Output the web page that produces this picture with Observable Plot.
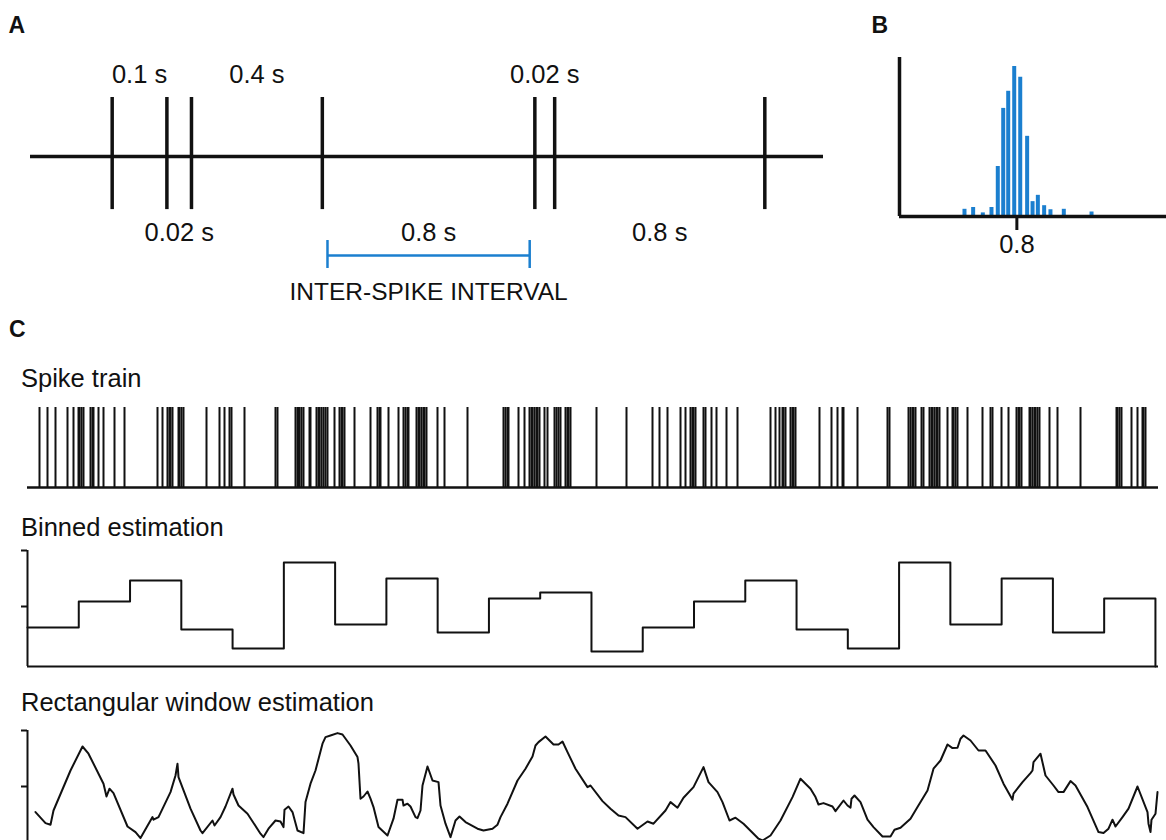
<!DOCTYPE html>
<html><head><meta charset="utf-8">
<script src="https://cdn.jsdelivr.net/npm/d3@7"></script>
<script src="https://cdn.jsdelivr.net/npm/@observablehq/plot@0.6"></script>
<style>
html,body{margin:0;padding:0;background:#fff;overflow:hidden;}
#fig{position:relative;width:1166px;height:840px;font-family:"Liberation Sans",Arial,Helvetica,sans-serif;color:#111;}
.panel{position:absolute;}
.lbl{position:absolute;line-height:1;white-space:nowrap;color:#111;}
.thick-ticks g[aria-label="x-axis tick"], .thick-ticks g[aria-label="x-axis tick"] path{stroke-width:3px;}
.thin-ticks g[aria-label="y-axis tick"], .thin-ticks g[aria-label="y-axis tick"] path{stroke-width:2px;}
</style></head>
<body><div id="fig"></div>
<script>
const FONT = '"Liberation Sans", Arial, Helvetica, sans-serif';
const INK = "#111";
const BLUE = "#1b7fcf";

// ---------- Panel A (schematic, not to scale) ----------
const schematicSpikes = [1.03, 1.72, 2.03, 3.68, 6.36, 6.61, 9.26];
const intervalLabels = ["0.1 s", "0.02 s", "0.4 s", "0.8 s", "0.02 s", "0.8 s"];
const intervalSides = ["above", "below", "above", "below", "above", "below"];
const isiExampleIndex = 3;
const isiCaption = "INTER-SPIKE INTERVAL";

// ---------- Panel B (ISI histogram) ----------
const isiBinCenters = [0.443, 0.502, 0.568, 0.627, 0.670, 0.707, 0.741, 0.782, 0.823, 0.870, 0.907, 0.943, 0.986, 1.029, 1.120, 1.309];
const isiBinCounts  = [1.6, 2.0, 0.8, 2.0, 11.1, 24.0, 27.8, 33.3, 30.9, 17.8, 3.3, 4.7, 2.4, 1.5, 1.6, 1.0];
const isiTicks = [0.8];

// ---------- Panel C ----------
const panelTitles = ["Spike train", "Binned estimation", "Rectangular window estimation"];
const spikeTimes = [
 0.12,0.20,0.28,0.40,0.46,0.51,0.52,0.54,0.56,0.63,0.65,0.66,0.71,0.76,0.87,0.97,1.30,1.35,1.40,1.42,1.43,1.45,1.51,1.52,1.54,1.56,1.79,1.92,1.97,2.02,2.04,2.17,2.48,2.50,2.68,2.70,2.71,2.72,2.74,2.76,2.82,2.83,2.89,2.91,2.92,2.94,2.96,2.98,3.00,3.07,3.12,3.14,3.15,3.17,3.27,3.43,3.50,3.52,3.53,3.61,3.71,
 3.76,3.78,3.80,3.81,3.89,3.91,3.92,3.94,3.96,3.97,3.99,4.10,4.17,4.40,4.76,4.78,4.80,4.81,4.91,4.97,5.02,5.04,5.05,5.07,5.09,5.10,5.12,5.17,5.20,5.27,5.29,5.31,5.33,5.38,5.40,5.41,5.43,5.69,5.99,6.25,6.32,6.40,6.53,6.58,6.63,6.65,6.66,6.68,6.76,6.78,6.84,6.89,6.99,7.10,7.43,7.48,7.52,
 7.55,7.56,7.58,7.63,7.65,7.66,7.68,7.92,8.04,8.10,8.15,8.16,8.30,8.60,8.62,8.81,8.83,8.85,8.86,8.88,8.94,8.96,9.02,9.04,9.05,9.07,9.09,9.10,9.12,9.20,9.25,9.26,9.28,9.30,9.40,9.55,9.63,9.65,9.74,9.81,9.89,9.91,9.92,9.94,10.02,10.03,10.05,10.07,10.08,10.10,10.12,10.22,10.30,10.53,10.89,10.90,10.92,10.94,11.04,11.10,11.15,11.16,11.18
];
const binnedRates = [19.5, 32.5, 43, 18.5, 9, 52, 21, 44, 17, 34, 37, 7.5, 19.5, 32.5, 43, 18.5, 9, 52, 21, 44, 17, 34];
const binWidth = 0.5127;
const rateTicks = [30, 58];
const rectTimes = [0.08,0.18,0.23,0.26,0.43,0.55,0.61,0.76,0.79,0.82,0.86,1.00,1.08,1.13,1.25,1.26,1.31,1.43,1.48,1.50,1.51,1.63,1.73,1.75,1.85,1.87,1.93,1.98,2.05,2.06,2.11,2.20,2.33,2.36,2.41,2.48,2.53,2.56,2.57,2.61,2.65,2.70,2.76,2.78,2.83,2.88,2.95,2.98,3.03,3.10,3.15,3.23,3.30,3.31,3.33,3.36,3.40,3.43,3.46,3.51,3.60,3.66,3.70,3.75,3.76,3.80,3.83,3.88,3.90,3.93,3.95,4.00,4.05,4.11,4.13,4.18,4.23,4.28,4.32,4.38,4.50,4.56,4.65,4.70,4.73,4.80,4.90,4.98,5.05,5.08,5.11,5.18,5.26,5.31,5.35,5.40,5.48,5.60,5.63,5.75,5.83,5.91,5.98,6.10,6.20,6.26,6.38,6.43,6.50,6.56,6.66,6.71,6.76,6.81,6.90,6.95,7.02,7.08,7.16,7.31,7.35,7.43,7.53,7.65,7.73,7.83,7.88,7.91,7.96,8.05,8.08,8.16,8.20,8.23,8.24,8.27,8.33,8.40,8.46,8.55,8.63,8.67,8.73,8.83,8.90,9.00,9.06,9.13,9.20,9.25,9.30,9.33,9.36,9.43,9.51,9.58,9.68,9.76,9.85,9.86,9.95,10.03,10.05,10.06,10.13,10.18,10.26,10.31,10.36,10.43,10.48,10.60,10.71,10.76,10.81,10.85,10.88,10.95,11.01,11.10,11.20,11.21,11.23,11.24,11.28,11.30];
const rectRates = [17.2,11.7,10.9,18,38,50,46.4,31.4,25,28.9,26.7,10,7.2,4.2,14.7,13.4,14.7,27.2,35.5,41.4,34.7,18.9,8,6.7,13,10.5,14.7,20,28.9,26,20.5,16.4,6.4,4.7,8.9,13,12.5,9.7,18.4,20,17.2,8,6.7,22.2,31.4,38,51.4,54.7,55.5,56.7,56,50.5,44.7,41.4,23.9,25,27.5,23.9,19.7,9.7,5.5,13.9,23.4,23.4,20.5,21.4,20,14.7,14.2,18,30.5,40,33,32.2,20.5,11.4,4.7,13,15,12.2,8.9,8,8.9,10.9,14.7,21.4,33,38.9,45,50.5,52.2,55,51,51,52.5,47.2,38.9,29.7,30.5,22.7,18.9,15.5,14.7,8.9,12.5,11.4,18,22.2,19.4,24.4,29.7,34.7,39.7,32.2,27.2,22.2,13,14.4,11.4,3.9,3,5.5,13,24.7,33.9,28.9,24.7,21,21.7,20,17.7,23,20.5,19.4,23.9,25.5,22.2,13.4,9.7,5,5,8.4,9.4,13.9,19.7,28,38.9,43,51,49.2,49.4,53.9,55.5,53,48,48,40.5,31.4,23.4,26.4,32.2,36.7,38,42.2,46.4,35.5,30.5,27.2,27.2,32.7,30.5,19.7,7.2,6.7,8.9,13.4,10,14.7,18.9,30,17.2,11.4,7.2,13.4,16.4,27.2];

// ---------- helpers ----------
const fig = document.getElementById("fig");
function place(node, left, top, cls) {
  const d = document.createElement("div");
  d.className = "panel " + (cls || "");
  d.style.left = left + "px"; d.style.top = top + "px";
  d.appendChild(node); fig.appendChild(d);
}
function label(text, left, baseline, size, bold) {
  const d = document.createElement("div");
  d.className = "lbl";
  d.textContent = text;
  d.style.fontSize = size + "px";
  d.style.fontWeight = bold ? "bold" : "normal";
  d.style.left = left + "px";
  d.style.top = (baseline - 0.8465 * size) + "px";
  fig.appendChild(d);
}
const baseStyle = (fs) => ({fontFamily: FONT, fontSize: fs + "px", background: "transparent", overflow: "visible", color: INK});

// ---------- Panel A ----------
const intervals = intervalLabels.map((t, i) => ({
  text: t, side: intervalSides[i],
  a: schematicSpikes[i], b: schematicSpikes[i + 1],
  mid: (schematicSpikes[i] + schematicSpikes[i + 1]) / 2
}));
const pad = 0.065;
const isi = intervals[isiExampleIndex];
const bracket = [{x1: isi.a + pad, x2: isi.b - pad}];
const capsX = [isi.a + pad, isi.b - pad];
const chartA = Plot.plot({
  width: 840, height: 310, marginLeft: 30, marginRight: 17, marginTop: 0, marginBottom: 0,
  x: {domain: [0, 10], axis: null},
  y: {domain: [-2.61, 2.644], axis: null},
  style: baseStyle(25.5),
  marks: [
    Plot.ruleY([0], {stroke: INK, strokeWidth: 3.5}),
    Plot.ruleX(schematicSpikes, {x: d => d, y1: -0.9, y2: 1, stroke: INK, strokeWidth: 3.5}),
    Plot.text(intervals, {x: "mid", y: d => d.side === "above" ? 1.254 : -1.44, text: "text", lineAnchor: "bottom", fill: INK, fontSize: 25.5}),
    Plot.ruleY(bracket, {x1: "x1", x2: "x2", y: -1.678, stroke: BLUE, strokeWidth: 2.5}),
    Plot.ruleX(capsX, {x: d => d, y1: -1.424, y2: -1.898, stroke: BLUE, strokeWidth: 2.5}),
    Plot.text([isi], {x: "mid", y: -2.424, text: () => isiCaption, lineAnchor: "bottom", fill: INK, fontSize: 24.5})
  ]
});
place(chartA, 0, 0);

// ---------- Panel B ----------
const isiHist = isiBinCenters.map((c, i) => ({c, n: isiBinCounts[i]}));
const chartB = Plot.plot({
  width: 306, height: 270, marginLeft: 39, marginRight: 0, marginTop: 57, marginBottom: 54,
  x: {domain: [0, 1.82], ticks: isiTicks, tickSize: 14, tickPadding: 4, tickFormat: d3.format(".1f"), label: null},
  y: {domain: [0, 35.3], axis: null},
  style: baseStyle(25.5),
  marks: [
    Plot.ruleX(isiHist, {x: "c", y1: 0, y2: "n", stroke: BLUE, strokeWidth: 4}),
    Plot.ruleY([0], {stroke: INK, strokeWidth: 3.5}),
    Plot.ruleX([0], {stroke: INK, strokeWidth: 3.5})
  ]
});
place(chartB, 860, 0, "thick-ticks");

// ---------- Panel C ----------
const xDomain = [0, 11.31];
const spikePlot = Plot.plot({
  width: 1166, height: 100, marginLeft: 27, marginRight: 8, marginTop: 12, marginBottom: 8,
  x: {domain: xDomain, axis: null},
  y: {domain: [0, 1], axis: null},
  style: baseStyle(20),
  marks: [
    Plot.tickX(spikeTimes, {x: d => d, stroke: INK, strokeWidth: 2}),
    Plot.ruleY([0], {stroke: INK, strokeWidth: 2.5})
  ]
});
place(spikePlot, 0, 395);

const binnedPts = binnedRates.map((v, i) => ({t: i * binWidth, v}));
binnedPts.push({t: binnedRates.length * binWidth, v: binnedRates[binnedRates.length - 1]});
binnedPts.push({t: binnedRates.length * binWidth, v: 0});
const binnedPlot = Plot.plot({
  width: 1166, height: 130, marginLeft: 27, marginRight: 8, marginTop: 5, marginBottom: 9,
  x: {domain: xDomain, axis: null},
  y: {domain: [0, 58], ticks: rateTicks, tickSize: 6, tickFormat: () => "", label: null},
  style: baseStyle(20),
  marks: [
    Plot.ruleX([0], {stroke: INK, strokeWidth: 2}),
    Plot.ruleY([0], {stroke: INK, strokeWidth: 2}),
    Plot.line(binnedPts, {x: "t", y: "v", curve: "step-after", stroke: INK, strokeWidth: 2})
  ]
});
place(binnedPlot, 0, 545, "thin-ticks");

const rectPts = rectTimes.map((t, i) => ({t, v: rectRates[i]}));
const rectPlot = Plot.plot({
  width: 1166, height: 135, marginLeft: 27, marginRight: 8, marginTop: 5, marginBottom: 14,
  x: {domain: xDomain, axis: null},
  y: {domain: [0, 58], ticks: rateTicks, tickSize: 6, tickFormat: () => "", label: null},
  style: baseStyle(20),
  marks: [
    Plot.ruleX([0], {stroke: INK, strokeWidth: 2}),
    Plot.line(rectPts, {x: "t", y: "v", stroke: INK, strokeWidth: 2, strokeLinejoin: "round"})
  ]
});
place(rectPlot, 0, 725, "thin-ticks");

// ---------- text labels ----------
label("A", 8.5, 33, 23, true);
label("B", 871.5, 33, 23, true);
label("C", 9, 337, 23, true);
label(panelTitles[0], 21, 388, 25.5, false);
label(panelTitles[1], 21, 537, 25.5, false);
label(panelTitles[2], 21, 712, 25.5, false);
</script></body></html>
